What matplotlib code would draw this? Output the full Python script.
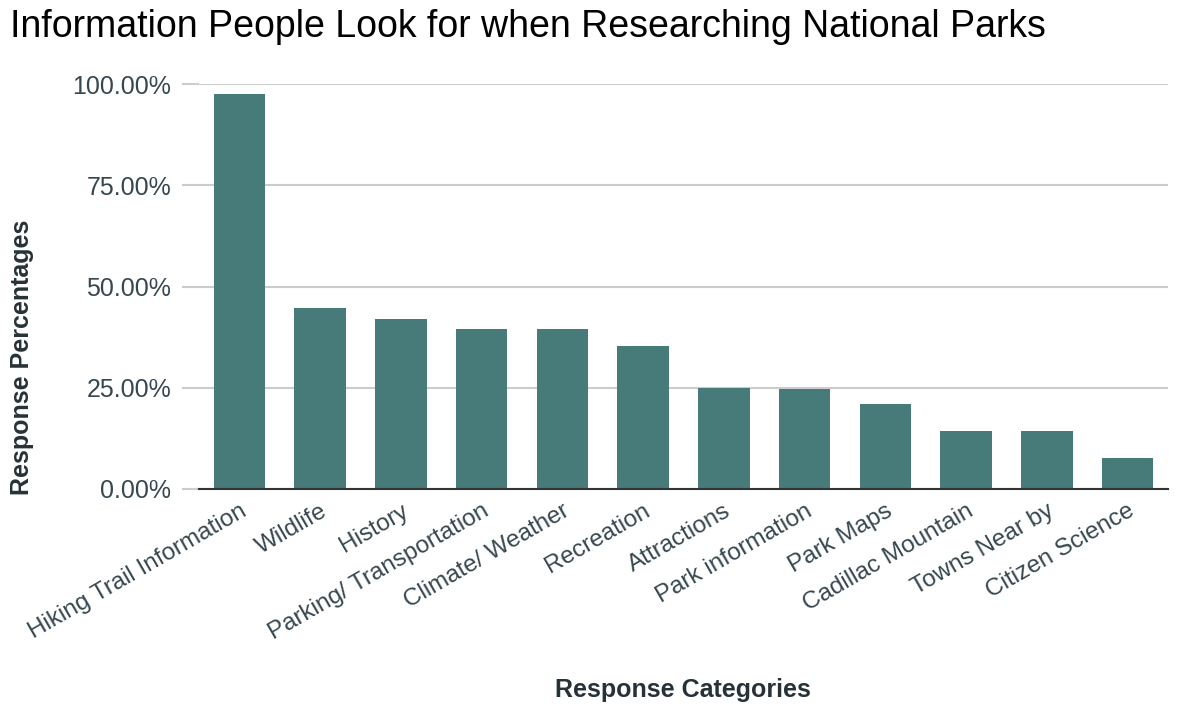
import matplotlib.pyplot as plt
from matplotlib.ticker import PercentFormatter

categories = [
    "Hiking Trail Information", "Wildlife", "History", "Parking/ Transportation",
    "Climate/ Weather", "Recreation", "Attractions", "Park information",
    "Park Maps", "Cadillac Mountain", "Towns Near by", "Citizen Science",
]
percentages = [97.6, 44.6, 42.1, 39.5, 39.5, 35.4, 25.0, 24.6, 21.0, 14.2, 14.2, 7.6]
yticks = [0, 25, 50, 75, 100]

bar_color = "#467b7a"
text_color = "#37474f"

plt.rcParams['font.family'] = ['Liberation Sans', 'DejaVu Sans']

fig = plt.figure(figsize=(11.83, 7.09), dpi=100)
ax = fig.add_axes([0.1682, 0.3103, 0.8191, 0.5712])

x = range(len(categories))
ax.bar(x, percentages, width=0.64, color=bar_color, zorder=3)

ax.set_xlim(-0.5, len(categories) - 0.5)
ax.set_ylim(0, 100)
ax.set_yticks(yticks)
ax.yaxis.set_major_formatter(PercentFormatter(decimals=2))
ax.grid(axis='y', color='#cccccc', linewidth=1.5, zorder=0)

ax.tick_params(axis='y', length=12, width=1.5, color='#cccccc', labelsize=18,
               labelcolor=text_color, pad=8)
ax.tick_params(axis='x', length=0, labelsize=17.5, labelcolor=text_color, pad=8)
ax.set_xticks(list(x))
ax.set_xticklabels(categories, rotation=30, ha='right', rotation_mode='anchor')

for side in ['top', 'right', 'left']:
    ax.spines[side].set_visible(False)
ax.spines['bottom'].set_color('#333333')
ax.spines['bottom'].set_linewidth(1.5)
ax.spines['bottom'].set_zorder(4)

fig.text(0.5775, 1 - 690 / 709, "Response Categories", fontsize=18, fontweight='bold',
         color='#263238', ha='center', va='center')
fig.text(22 / 1183, 1 - 357 / 709, "Response Percentages", fontsize=18, fontweight='bold',
         color='#263238', ha='center', va='center', rotation=90)

fig.text(0.0085, 1 - 27 / 709, "Information People Look for when Researching National Parks",
         fontsize=27, color='#000000', va='center', ha='left')

fig.savefig("out.png", dpi=100, facecolor='white')
